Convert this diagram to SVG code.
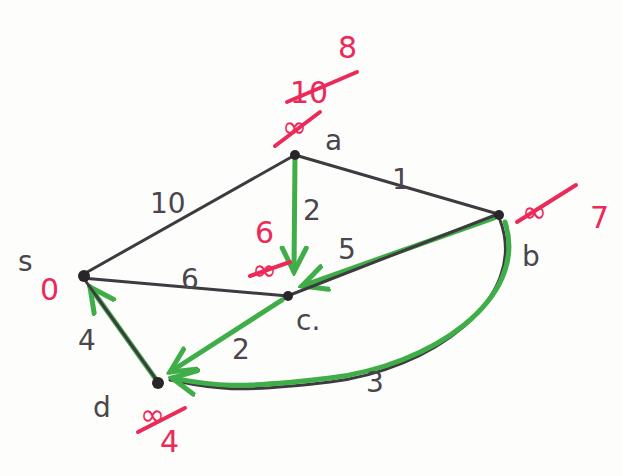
<svg xmlns="http://www.w3.org/2000/svg" width="622" height="476" viewBox="0 0 622 476">
<defs>
<style>
.e{stroke:#3d3a40;stroke-width:3;fill:none;stroke-linecap:round}
.g{stroke:#3fae48;stroke-width:5;fill:none;stroke-linecap:round}
.n{fill:#2a2528}
.t{font-family:"DejaVu Sans",sans-serif;font-size:28px;fill:#4a464c}
.r{font-family:"DejaVu Sans",sans-serif;font-size:30px;fill:#ec2a5a}
.s{stroke:#ec2a5a;stroke-width:4;stroke-linecap:round}
</style>
<marker id="ahb" markerWidth="30" markerHeight="30" refX="26" refY="15" orient="auto" markerUnits="userSpaceOnUse" viewBox="0 0 30 30">
<path d="M2,3 L26,15 L2,27" stroke="#3fae48" stroke-width="5" fill="none" stroke-linecap="round"/>
</marker>
</defs>
<rect width="622" height="476" fill="#fdfdfb"/>
<g id="edges">
<line class="e" x1="82" y1="275" x2="295" y2="155"/>
<line class="e" x1="82" y1="278" x2="288" y2="296"/>
<line class="e" x1="295" y1="155" x2="498" y2="214"/>
<path class="e" d="M500,220 C530,300 430,370 330,382 S210,388 170,380"/>
<path class="g" d="M505,222 C530,300 430,366 330,378 S210,385 172,378" marker-end="url(#ahb)"/>
<line class="g" x1="295" y1="158" x2="294" y2="272" marker-end="url(#ahb)"/>
<line class="g" x1="494" y1="218" x2="302" y2="286" marker-end="url(#ahb)"/>
<line class="e" x1="498" y1="214" x2="290" y2="295"/>
<line class="g" x1="282" y1="300" x2="170" y2="372" marker-end="url(#ahb)"/>
<line class="g" x1="155" y1="378" x2="90" y2="287" marker-end="url(#ahb)"/>
<line class="e" x1="82" y1="276" x2="158" y2="382"/>
<text class="t" x="150" y="213">10</text>
<text class="t" x="392" y="189">1</text>
<text class="t" x="303" y="220">2</text>
<text class="t" x="338" y="259">5</text>
<text class="t" x="181" y="289">6</text>
<text class="t" x="232" y="359">2</text>
<text class="t" x="366" y="392">3</text>
<text class="t" x="78" y="350">4</text>
</g>
<g id="node-s">
<circle class="n" cx="84" cy="276" r="6"/>
<text class="t" x="18" y="271">s</text>
<text class="r" x="40" y="300">0</text>
</g>
<g id="node-a">
<circle class="n" cx="295" cy="155" r="5"/>
<text class="t" x="325" y="150">a</text>
<text class="r" x="338" y="58">8</text>
<text class="r" x="290" y="103">10</text>
<line class="s" x1="287" y1="102" x2="357" y2="72"/>
<text class="r" x="282" y="137">∞</text>
<line class="s" x1="275" y1="146" x2="320" y2="112"/>
</g>
<g id="node-b">
<circle class="n" cx="499" cy="215" r="5"/>
<text class="t" x="522" y="266">b</text>
<text class="r" x="522" y="222">∞</text>
<line class="s" x1="517" y1="222" x2="576" y2="185"/>
<text class="r" x="590" y="228">7</text>
</g>
<g id="node-c">
<circle class="n" cx="288" cy="296" r="5"/>
<text class="t" x="296" y="330">c.</text>
<text class="r" x="255" y="243">6</text>
<text class="r" x="252" y="280" font-size="24">∞</text>
<line class="s" x1="250" y1="276" x2="290" y2="262"/>
</g>
<g id="node-d">
<circle class="n" cx="158" cy="383" r="6"/>
<text class="t" x="93" y="417">d</text>
<text class="r" x="140" y="425">∞</text>
<line class="s" x1="138" y1="432" x2="185" y2="408"/>
<text class="r" x="160" y="452">4</text>
</g>
</svg>
